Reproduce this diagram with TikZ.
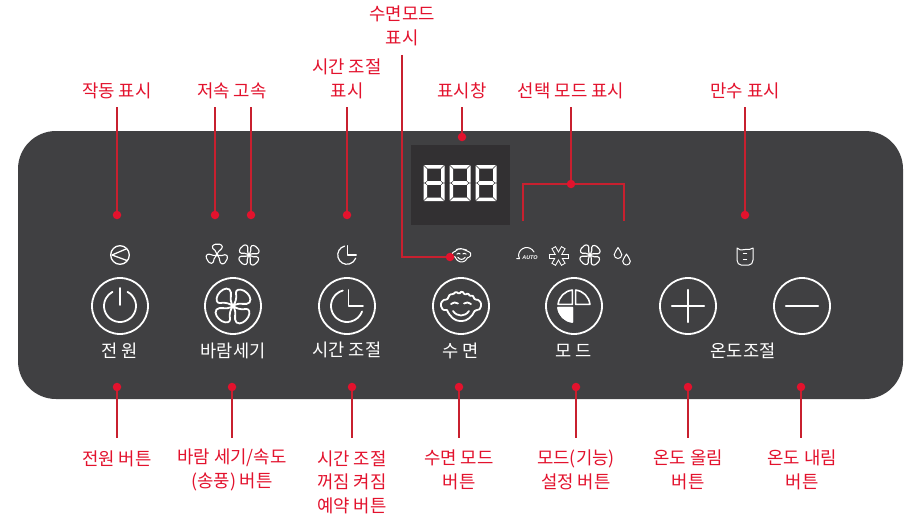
\documentclass[tikz,border=0pt]{standalone}
\usepackage{fontspec}
\setmainfont{Noto Sans CJK KR}
\newfontfamily\latinfont{Liberation Sans}
\usetikzlibrary{calc}
\definecolor{panel}{HTML}{404042}
\definecolor{screen}{HTML}{323032}
\definecolor{accent}{HTML}{E3122D}
\definecolor{accentline}{HTML}{C8202F}
\newcommand{\fanblade}{(0.12,-0.03) .. controls (0.4,-0.1) and (0.5,-0.5) .. (0.75,-0.48) .. controls (0.98,-0.45) and (1.05,-0.1) .. (0.98,0.15) .. controls (0.9,0.42) and (0.7,0.5) .. (0.6,0.38) .. controls (0.5,0.25) and (0.35,0.08) .. (0.12,0.03)}
% x, y, scale, line width, list of angles
\newcommand{\drawfan}[5]{\begin{scope}[shift={(#1,#2)},scale=#3]
  \foreach \a in {#5}{\draw[iconthin,line width=#4,rotate=\a] \fanblade;}
  \draw[iconthin,line width=#4] (0,0) circle (0.09);
\end{scope}}
% x, y, scale, line width
\newcommand{\drawface}[4]{\begin{scope}[shift={(#1,#2)},scale=#3]
  \draw[iconthin,line width=#4,rounded corners=1.2pt] (-14,-4) .. controls (-11,-11) and (-6,-15) .. (0,-15) .. controls (6,-15) and (11,-11) .. (14,-4) .. controls (18,-5) and (20,-2) .. (20,1) .. controls (20,4) and (17,7) .. (14,6) -- (11.5,11) -- (9,9.5) -- (7,13) -- (4,11) -- (1,15) -- (-2,12) -- (-5,14.5) -- (-8,11.5) -- (-11,12) -- (-14,6) .. controls (-17,7) and (-20,4) .. (-20,1) .. controls (-20,-2) and (-18,-5) .. (-14,-4);
  \draw[iconthin,line width=#4] (-10,2) .. controls (-8,4) and (-5,4) .. (-3,2.5);
  \draw[iconthin,line width=#4] (3,2.5) .. controls (5,4) and (8,4) .. (10,2);
  \draw[iconthin,line width=#4] (-8,-5) .. controls (-4,-11) and (4,-11) .. (8,-5);
\end{scope}}
\tikzset{
  x=1pt,y=1pt,
  callout/.style={font=\fontsize{17.8}{23.5}\selectfont,text=accent,align=center,inner sep=0pt},
  caption/.style={font=\fontsize{17.6}{20}\selectfont,text=white,inner sep=0pt},
  dotmark/.style={circle,fill=accent,minimum size=8.5pt,inner sep=0pt},
  wire/.style={draw=accentline,line width=1.4pt},
  ring/.style={circle,draw=white,line width=1.8pt,minimum size=56pt,inner sep=0pt},
  iconline/.style={draw=white,line width=1.8pt,line cap=round,line join=round},
  iconthin/.style={draw=white,line width=1pt,line cap=round,line join=round},
  clockface/.pic={
    \draw[iconline] (105:16) arc[start angle=105,end angle=340,radius=16];
    \draw[iconline] (1.5,16) -- (1.5,0) -- (16,0);},
  drop/.pic={
    \draw[iconthin] (0,5) .. controls (1,2.5) and (3.8,0) .. (3.8,-2.2) arc[start angle=0,end angle=-180,radius=3.8] .. controls (-3.8,0) and (-1,2.5) .. cycle;},
}
\begin{document}
\begin{tikzpicture}
\useasboundingbox (0,0) rectangle (916,-519);
\fill[white] (0,0) rectangle (916,-519);
\fill[panel,rounded corners=38pt] (18,-131) rectangle (903,-399);
\fill[screen] (411,-145) rectangle (510,-225);

% seven segment digits
\foreach \dx in {423.5,449.5,475.5}{
  \begin{scope}[shift={(\dx,-165)}]
    \fill[white] (0.6,0) -- (20.4,0) -- (17,-3.5) -- (4,-3.5) -- cycle;
    \fill[white] (0.6,-36) -- (20.4,-36) -- (17,-32.5) -- (4,-32.5) -- cycle;
    \fill[white] (2,-18) -- (4,-16.2) -- (17,-16.2) -- (19,-18) -- (17,-19.8) -- (4,-19.8) -- cycle;
    \fill[white] (0,-0.6) -- (3.5,-4) -- (3.5,-15.8) -- (1.2,-17.6) -- (0,-17.6) -- cycle;
    \fill[white] (21,-0.6) -- (17.5,-4) -- (17.5,-15.8) -- (19.8,-17.6) -- (21,-17.6) -- cycle;
    \fill[white] (0,-35.4) -- (3.5,-32) -- (3.5,-20.2) -- (1.2,-18.4) -- (0,-18.4) -- cycle;
    \fill[white] (21,-35.4) -- (17.5,-32) -- (17.5,-20.2) -- (19.8,-18.4) -- (21,-18.4) -- cycle;
  \end{scope}}

% buttons
\node[ring] (power) at (120,-306) {};
\node[ring] (wind) at (233,-306) {};
\node[ring] (timer) at (347,-306) {};
\node[ring] (sleep) at (461,-306) {};
\node[ring] (mode) at (574,-306) {};
\node[ring] (up) at (688,-306) {};
\node[ring] (down) at (802,-306) {};

% button glyphs
\begin{scope}[shift={(120,-306)}]
  \draw[iconline] (62:16) arc[start angle=62,end angle=-242,radius=16];
  \draw[iconline] (0,18) -- (0,1);
\end{scope}
\drawfan{233}{-306}{19}{1.8pt}{45,135,225,315}
\pic at (347,-306) {clockface};
\drawface{461}{-306}{1}{1.8pt}
\begin{scope}[shift={(574,-306)}]
  \foreach \a in {0,90,180}{
    \draw[iconline,line width=1.6pt,rotate=\a] (1.6,1.6) -- (5.7:16) arc[start angle=5.7,end angle=84.3,radius=16] -- cycle;}
  \fill[white,draw=white,line width=1.6pt,line join=round] (-1.6,-1.6) -- (185.7:16) arc[start angle=185.7,end angle=264.3,radius=16] -- cycle;
\end{scope}
\draw[iconline,line width=2.2pt] (672,-306) -- (704,-306) (688,-290) -- (688,-322);
\draw[iconline,line width=2.2pt] (786,-306) -- (818,-306);

% captions
\node[caption] (capa) at (120,-350.5) {전 원};
\node[caption] (capb) at (233,-350.5) {바람세기};
\node[caption] (capc) at (347,-350) {시간 조절};
\node[caption] (capd) at (461,-350.5) {수 면};
\node[caption] (cape) at (574,-350.5) {모 드};
\node[caption] (capf) at (743,-350.5) {온도조절};

% small status icons
\begin{scope}[shift={(120,-255)}]
  \draw[iconthin,line width=1.3pt] (0,0) circle (9.3);
  \draw[iconthin,line width=1.3pt] (6.7,6.3) -- (-8,0) -- (7.2,-5.6);
\end{scope}
\drawfan{217}{-255}{11}{1.1pt}{90,210,330}
\drawfan{249}{-255}{11}{1.1pt}{45,135,225,315}
\begin{scope}[shift={(347,-255)},scale=0.58]
  \draw[iconthin,line width=1.2pt] (105:16) arc[start angle=105,end angle=340,radius=16];
  \draw[iconthin,line width=1.2pt] (1.5,16) -- (1.5,0) -- (16,0);
\end{scope}
\drawface{461.5}{-255}{0.46}{1pt}
\draw[iconthin] (516.7,-258.7) -- (519.5,-258.7) -- (518.5,-255.5) .. controls (519,-247) and (530,-244.5) .. (534,-252);
\node[inner sep=0pt,text=white,font=\latinfont\fontsize{5.4}{7}\selectfont\bfseries\itshape] (autotag) at (530,-258) {AUTO};
\begin{scope}[shift={(558.5,-256)}]
  \foreach \a in {0,60,120}{\draw[white,line width=5pt,rotate=\a] (-10,0) -- (10,0);}
  \foreach \a in {0,60,120}{\draw[panel,line width=3pt,rotate=\a] (-9,0) -- (9,0);}
\end{scope}
\drawfan{590}{-255}{11}{1.1pt}{45,135,225,315}
\pic at (618,-252.5) {drop};
\pic at (626.5,-259) {drop};
\begin{scope}[shift={(745,-256)}]
  \draw[iconthin] (-8,8) .. controls (-6,5.5) and (-4,6) .. (0,6.5) .. controls (4,7) and (6,6) .. (8,8) -- (8,-4) .. controls (8,-7) and (6,-9) .. (4,-9) -- (-4,-9) .. controls (-6,-9) and (-8,-7) .. (-8,-4) -- cycle;
  \draw[iconthin,line width=1.3pt] (-1.5,2.5) -- (1.5,2.5) (-1.5,-3.5) -- (1.5,-3.5);
\end{scope}

% top callouts
\node[callout] (t1) at (117,-91) {작동 표시};
\node[callout] (t2) at (232,-91) {저속 고속};
\node[callout] (t3) at (347,-79) {시간 조절\\표시};
\node[callout] (t4) at (402,-26) {수면모드\\표시};
\node[callout] (t5) at (462,-91) {표시창};
\node[callout] (t6) at (571,-91) {선택 모드 표시};
\node[callout] (t7) at (745,-91) {만수 표시};

% bottom callouts
\node[callout] (b1) at (117,-458.5) {전원 버튼};
\node[callout] (b2) at (232,-470) {바람 세기/속도\\(송풍) 버튼};
\node[callout] (b3) at (352,-482) {시간 조절\\꺼짐 켜짐\\예약 버튼};
\node[callout] (b4) at (459,-470) {수면 모드\\버튼};
\node[callout] (b5) at (576,-470) {모드(기능)\\설정 버튼};
\node[callout] (b6) at (688,-470) {온도 올림\\버튼};
\node[callout] (b7) at (802,-470) {온도 내림\\버튼};

% marker dots
\node[dotmark] (d1) at (117,-215) {};
\node[dotmark] (d2a) at (215,-215) {};
\node[dotmark] (d2b) at (251,-215) {};
\node[dotmark] (d3) at (347,-215) {};
\node[dotmark] (d4) at (450,-257) {};
\node[dotmark] (d5) at (462,-137) {};
\node[dotmark] (d6) at (571,-184) {};
\node[dotmark] (d7) at (745,-215) {};
\node[dotmark] (e1) at (117,-387) {};
\node[dotmark] (e2) at (232,-387) {};
\node[dotmark] (e3) at (352,-387) {};
\node[dotmark] (e4) at (459,-387) {};
\node[dotmark] (e5) at (576,-387) {};
\node[dotmark] (e6) at (688,-387) {};
\node[dotmark] (e7) at (801,-387) {};

% connector ends
\coordinate (c1) at (117,-107);
\coordinate (c2a) at (215,-107);
\coordinate (c2b) at (251,-107);
\coordinate (c3) at (347,-107);
\coordinate (c4) at (402,-55);
\coordinate (c5) at (462,-107);
\coordinate (c6) at (571,-107);
\coordinate (c7) at (745,-107);
\coordinate (bl) at (523,-221);
\coordinate (br) at (624,-221);
\coordinate (f1) at (117,-438);
\coordinate (f2) at (232,-438);
\coordinate (f3) at (352,-438);
\coordinate (f4) at (459,-438);
\coordinate (f5) at (576,-438);
\coordinate (f6) at (688,-438);
\coordinate (f7) at (801,-438);

\draw[wire] (c1) -- (d1);
\draw[wire] (c2a) -- (d2a);
\draw[wire] (c2b) -- (d2b);
\draw[wire] (c3) -- (d3);
\draw[wire] (c4) |- (d4);
\draw[wire] (c5) -- (d5);
\draw[wire] (c6) -- (d6);
\draw[wire] (c7) -- (d7);
\draw[wire] (bl) |- (d6) -| (br);
\draw[wire] (e1) -- (f1);
\draw[wire] (e2) -- (f2);
\draw[wire] (e3) -- (f3);
\draw[wire] (e4) -- (f4);
\draw[wire] (e5) -- (f5);
\draw[wire] (e6) -- (f6);
\draw[wire] (e7) -- (f7);
\end{tikzpicture}
\end{document}
